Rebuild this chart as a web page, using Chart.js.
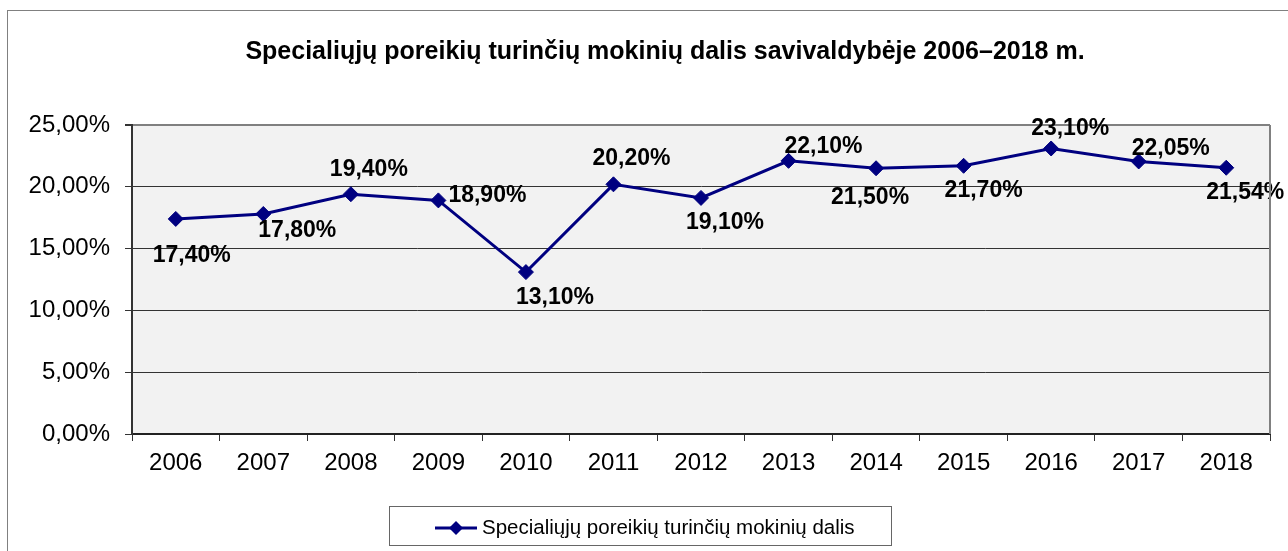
<!DOCTYPE html>
<html>
<head>
<meta charset="utf-8">
<script src="https://cdn.jsdelivr.net/npm/chart.js@4"></script>
<style>
  html, body { margin: 0; padding: 0; background: #fff; }
  #wrap { width: 1288px; height: 551px; }
</style>
</head>
<body>
<div id="wrap"><canvas id="c" width="1288" height="551"></canvas></div>
<script>
const years = ["2006", "2007", "2008", "2009", "2010", "2011", "2012", "2013", "2014", "2015", "2016", "2017", "2018"];
const shares = [17.40, 17.80, 19.40, 18.90, 13.10, 20.20, 19.10, 22.10, 21.50, 21.70, 23.10, 22.05, 21.54];
const yTicks = [0, 5, 10, 15, 20, 25];
const seriesName = "Specialiųjų poreikių turinčių mokinių dalis";
const chartTitle = "Specialiųjų poreikių turinčių mokinių dalis savivaldybėje 2006–2018 m.";

// where each value label sits relative to its point (px)
const labelOffsets = [[16, 37], [34, 17], [18, -25], [49, -5], [29, 26], [18, -26], [24, 25],
                      [35, -14], [-6, 29], [20, 25], [19, -20], [32, -13], [19, 25]];

const FONT = "'Liberation Sans', Arial, sans-serif";
const NAVY = "#000080";
const pct = v => v.toFixed(2).replace(".", ",") + "%";

const decor = {
  id: "decor",
  beforeDraw(chart) {
    const { ctx, chartArea: a } = chart;
    ctx.save();
    ctx.fillStyle = "#fff";
    ctx.fillRect(0, 0, chart.width, chart.height);
    ctx.strokeStyle = "#808080";
    ctx.lineWidth = 1;
    ctx.strokeRect(7.5, 10.5, 1300, 560);
    ctx.fillStyle = "#f2f2f2";
    ctx.fillRect(a.left, a.top, a.right - a.left, a.bottom - a.top);
    ctx.restore();
  },
  afterDraw(chart) {
    const { ctx, chartArea: a } = chart;
    ctx.save();
    // plot border right side
    ctx.strokeStyle = "#808080";
    ctx.lineWidth = 2;
    ctx.beginPath();
    ctx.moveTo(a.right, a.top);
    ctx.lineTo(a.right, a.bottom);
    ctx.stroke();

    // title
    ctx.fillStyle = "#000";
    ctx.font = "bold 25px " + FONT;
    ctx.textAlign = "center";
    ctx.textBaseline = "middle";
    ctx.fillText(chartTitle, 665, 52);

    // legend
    ctx.strokeStyle = "#666";
    ctx.lineWidth = 1;
    ctx.strokeRect(389.5, 506.5, 502, 39);
    ctx.strokeStyle = NAVY;
    ctx.lineWidth = 3;
    ctx.beginPath();
    ctx.moveTo(435, 528);
    ctx.lineTo(477, 528);
    ctx.stroke();
    ctx.fillStyle = NAVY;
    ctx.beginPath();
    ctx.moveTo(456, 521);
    ctx.lineTo(463, 528);
    ctx.lineTo(456, 535);
    ctx.lineTo(449, 528);
    ctx.closePath();
    ctx.fill();
    ctx.fillStyle = "#000";
    ctx.font = "20.5px " + FONT;
    ctx.textAlign = "left";
    ctx.fillText(seriesName, 482, 528);
    ctx.restore();
  },
  afterDatasetsDraw(chart) {
    const { ctx } = chart;
    const meta = chart.getDatasetMeta(0);
    ctx.save();
    ctx.fillStyle = "#000";
    ctx.font = "bold 23px " + FONT;
    ctx.textAlign = "center";
    ctx.textBaseline = "middle";
    meta.data.forEach((pt, i) => {
      const [dx, dy] = labelOffsets[i];
      ctx.fillText(pct(shares[i]), pt.x + dx, pt.y + dy);
    });
    ctx.restore();
  }
};

new Chart(document.getElementById("c"), {
  type: "line",
  data: {
    labels: years,
    datasets: [{
      label: seriesName,
      data: shares,
      borderColor: NAVY,
      backgroundColor: NAVY,
      borderWidth: 3,
      pointStyle: "rectRot",
      pointRadius: 7.5,
      pointHoverRadius: 7.5,
      pointBackgroundColor: NAVY,
      pointBorderColor: NAVY,
      pointBorderWidth: 1,
      tension: 0
    }]
  },
  options: {
    responsive: false,
    animation: false,
    devicePixelRatio: 1,
    layout: { padding: { top: 125, right: 18, bottom: 57, left: 0 } },
    plugins: {
      legend: { display: false },
      title: { display: false },
      tooltip: { enabled: false }
    },
    scales: {
      x: {
        offset: true,
        afterFit: s => { s.height = 60; },
        grid: { offset: true, drawOnChartArea: false, drawTicks: true, tickLength: 7, color: "#333" },
        border: { display: true, color: "#222", width: 2 },
        ticks: { font: { family: FONT, size: 24 }, color: "#000", padding: 8, maxRotation: 0 }
      },
      y: {
        min: 0,
        max: 25,
        afterFit: s => { s.width = 132; },
        afterBuildTicks: s => { s.ticks = yTicks.map(v => ({ value: v })); },
        grid: {
          color: c => (c.tick && c.tick.value === 25) ? "#808080" : "#333",
          lineWidth: c => (c.tick && c.tick.value === 25) ? 2 : 1,
          tickLength: 7,
          tickColor: "#333"
        },
        border: { display: true, color: "#333", width: 2 },
        ticks: { font: { family: FONT, size: 24 }, color: "#000", padding: 15, callback: v => pct(v) }
      }
    }
  },
  plugins: [decor]
});
</script>
</body>
</html>
